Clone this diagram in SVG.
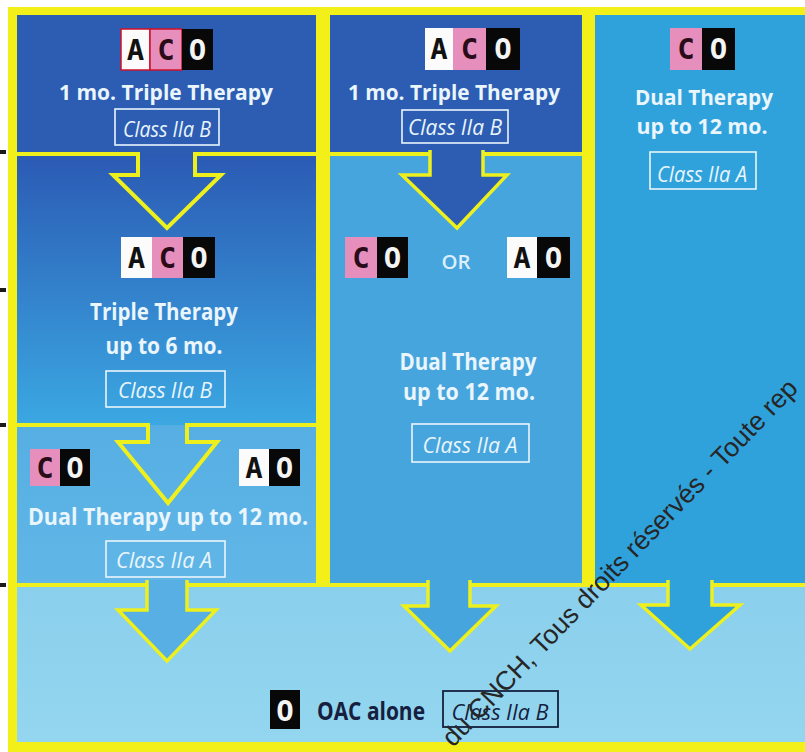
<svg xmlns="http://www.w3.org/2000/svg" width="805" height="752" viewBox="0 0 805 752">
<defs>
<linearGradient id="gMid" x1="0" y1="0" x2="0" y2="1"><stop offset="0" stop-color="#2b5ab4"/><stop offset="1" stop-color="#3ba8e2"/></linearGradient>
<linearGradient id="gLow" x1="0" y1="0" x2="0" y2="1"><stop offset="0" stop-color="#56aee3"/><stop offset="1" stop-color="#60b6e6"/></linearGradient>
<linearGradient id="gBot" x1="0" y1="0" x2="0" y2="1"><stop offset="0" stop-color="#8acfec"/><stop offset="1" stop-color="#94d6ef"/></linearGradient>
</defs>
<style>
.t{font-family:"Open Sans","Liberation Sans",sans-serif;font-weight:700;fill:#eaf5fc;text-anchor:middle}
.c{font-family:"Open Sans","Liberation Sans",sans-serif;font-style:italic;font-size:22px;fill:#eaf5fc;text-anchor:middle}
.box{fill:none;stroke:#eaf5fc;stroke-width:1.6}
.l{font-family:"DejaVu Sans Mono","Liberation Mono",monospace;font-weight:700;font-size:29px;text-anchor:middle}
.w{fill:#fbfbfb}.p{fill:#e68fbd}.k{fill:#080808}
.lk{fill:#111}.lc{fill:#2a0c18}.lw{fill:#f4f4f4}
.y{fill:none;stroke:#eef01e;stroke-width:4}
.ya{stroke:#eef01e;stroke-width:3.5}
</style>
<rect width="805" height="752" fill="#ffffff"/>
<rect x="8" y="7" width="797" height="745" fill="#f3ef18"/>
<g fill="#1a1a1a"><rect x="0" y="150" width="6" height="4"/><rect x="0" y="288" width="6" height="4"/><rect x="0" y="423" width="6" height="4"/><rect x="0" y="583" width="6" height="4"/></g>

<g id="panels">
<rect x="17" y="15" width="299" height="139" fill="#2c5db3"/>
<rect x="17" y="154" width="299" height="271" fill="url(#gMid)"/>
<rect x="17" y="425" width="299" height="158" fill="url(#gLow)"/>
<rect x="330" y="15" width="252" height="139" fill="#2c5db3"/>
<rect x="330" y="154" width="252" height="429" fill="#46a5dd"/>
<rect x="595" y="15" width="210" height="570" fill="#2fa2dc"/>
<rect x="17" y="587" width="788" height="155" fill="url(#gBot)"/>
</g>

<g id="connectors">
<polyline class="y" points="17,154 138,154 138,175 113,175 167,228 221,175 195,175 195,154 316,154"/>
<polyline class="y" points="17,425 148,425 148,442 118,442 168,503 217,442 187,442 187,425 316,425"/>
<path class="ya" fill="#2c5db3" d="M430,150 L430,175 L402,175 L457,228 L507,175 L483,175 L483,150"/>
<line class="y" x1="330" y1="154" x2="430" y2="154"/>
<line class="y" x1="483" y1="154" x2="582" y2="154"/>
<line class="y" x1="17" y1="585" x2="805" y2="585"/>
<path class="ya" fill="#58afe3" d="M147,580 L147,610 L118,610 L167,661 L216,610 L187,610 L187,580"/>
<path class="ya" fill="#46a5dd" d="M428,580 L428,606 L404,606 L450,651 L496,606 L470,606 L470,580"/>
<path class="ya" fill="#2fa2dc" d="M668,580 L668,605 L641,605 L690,649 L740,605 L712,605 L712,580"/>
</g>

<g id="n1">
<rect x="121" y="29" width="29" height="41" class="w" stroke="#d0102a" stroke-width="1.5"/>
<rect x="150" y="29" width="32" height="41" class="p" stroke="#d0102a" stroke-width="1.5"/>
<rect x="182" y="29" width="31" height="41" class="k"/>
<text class="l lk" x="135.5" y="60">A</text><text class="l lc" x="166" y="60">C</text><text class="l lw" x="197.5" y="60">O</text>
<text class="t" x="166" y="100" font-size="21" textLength="214" lengthAdjust="spacingAndGlyphs">1 mo. Triple Therapy</text>
<rect class="box" x="115" y="109" width="104" height="36"/>
<text class="c" x="167" y="137" textLength="88" lengthAdjust="spacingAndGlyphs">Class IIa  B</text>
</g>

<g id="n2">
<rect x="121" y="237" width="31" height="41" class="w"/>
<rect x="152" y="237" width="31" height="41" class="p"/>
<rect x="183" y="237" width="32" height="41" class="k"/>
<text class="l lk" x="136.5" y="268">A</text><text class="l lc" x="167.5" y="268">C</text><text class="l lw" x="199" y="268">O</text>
<text class="t" x="164" y="320" font-size="23" textLength="148" lengthAdjust="spacingAndGlyphs">Triple Therapy</text>
<text class="t" x="164" y="354" font-size="23" textLength="117" lengthAdjust="spacingAndGlyphs">up to 6 mo.</text>
<rect class="box" x="106" y="371" width="119" height="36"/>
<text class="c" x="165" y="398" textLength="94" lengthAdjust="spacingAndGlyphs">Class IIa  B</text>
</g>

<g id="n3">
<rect x="30" y="449" width="30" height="37" class="p"/>
<rect x="60" y="449" width="30" height="37" class="k"/>
<text class="l lc" x="45" y="478">C</text><text class="l lw" x="75" y="478">O</text>
<rect x="239" y="449" width="30" height="37" class="w"/>
<rect x="269" y="449" width="31" height="37" class="k"/>
<text class="l lk" x="254" y="478">A</text><text class="l lw" x="284.5" y="478">O</text>
<text class="t" x="168" y="525" font-size="23" textLength="280" lengthAdjust="spacingAndGlyphs">Dual Therapy up to 12 mo.</text>
<rect class="box" x="106" y="541" width="119" height="36"/>
<text class="c" x="164" y="568" textLength="96" lengthAdjust="spacingAndGlyphs">Class IIa  A</text>
</g>

<g id="n4">
<rect x="425" y="28" width="28" height="42" class="w"/>
<rect x="453" y="28" width="33" height="42" class="p"/>
<rect x="486" y="28" width="34" height="42" class="k"/>
<text class="l lk" x="439" y="59">A</text><text class="l lc" x="469.5" y="59">C</text><text class="l lw" x="503" y="59">O</text>
<text class="t" x="454" y="100" font-size="21" textLength="212" lengthAdjust="spacingAndGlyphs">1 mo. Triple Therapy</text>
<rect class="box" x="402" y="110" width="106" height="33"/>
<text class="c" x="455" y="135" textLength="94" lengthAdjust="spacingAndGlyphs">Class IIa  B</text>
</g>

<g id="n5">
<rect x="345" y="237" width="32" height="41" class="p"/>
<rect x="377" y="237" width="31" height="41" class="k"/>
<text class="l lc" x="361" y="268">C</text><text class="l lw" x="392.5" y="268">O</text>
<text x="456" y="269" font-family="Open Sans, Liberation Sans, sans-serif" font-weight="600" font-size="20" fill="#dcefff" text-anchor="middle" textLength="29" lengthAdjust="spacingAndGlyphs">OR</text>
<rect x="507" y="237" width="30" height="41" class="w"/>
<rect x="537" y="237" width="33" height="41" class="k"/>
<text class="l lk" x="522" y="268">A</text><text class="l lw" x="553.5" y="268">O</text>
<text class="t" x="468" y="370" font-size="24" textLength="137" lengthAdjust="spacingAndGlyphs">Dual Therapy</text>
<text class="t" x="469" y="400" font-size="24" textLength="132" lengthAdjust="spacingAndGlyphs">up to 12 mo.</text>
<rect class="box" x="412" y="424" width="117" height="38"/>
<text class="c" x="470" y="453" textLength="95" lengthAdjust="spacingAndGlyphs">Class IIa  A</text>
</g>

<g id="n6">
<rect x="670" y="28" width="32" height="42" class="p"/>
<rect x="702" y="28" width="33" height="42" class="k"/>
<text class="l lc" x="686" y="59">C</text><text class="l lw" x="718.5" y="59">O</text>
<text class="t" x="704" y="105" font-size="22" textLength="138" lengthAdjust="spacingAndGlyphs">Dual Therapy</text>
<text class="t" x="702" y="134" font-size="22" textLength="131" lengthAdjust="spacingAndGlyphs">up to 12 mo.</text>
<rect class="box" x="650" y="152" width="106" height="37"/>
<text class="c" x="702" y="182" textLength="90" lengthAdjust="spacingAndGlyphs">Class IIa  A</text>
</g>

<g id="n7">
<rect x="270" y="690" width="30" height="39" class="k"/>
<text class="l lw" x="285" y="721">O</text>
<text x="371" y="720" font-family="Open Sans, Liberation Sans, sans-serif" font-weight="700" font-size="25" fill="#15203e" text-anchor="middle" textLength="108" lengthAdjust="spacingAndGlyphs">OAC alone</text>
<rect x="443" y="691" width="115" height="36" fill="none" stroke="#15203e" stroke-width="1.8"/>
<text x="500" y="720" font-family="Open Sans, Liberation Sans, sans-serif" font-style="italic" font-size="22" fill="#15203e" text-anchor="middle" textLength="97" lengthAdjust="spacingAndGlyphs">Class IIa  B</text>
</g>

<text x="0" y="0" transform="translate(453,748) rotate(-46)" font-family="Liberation Sans, Arial, sans-serif" font-size="26.5" fill="#262626">du CNCH, Tous droits réservés - Toute rep</text>
</svg>
